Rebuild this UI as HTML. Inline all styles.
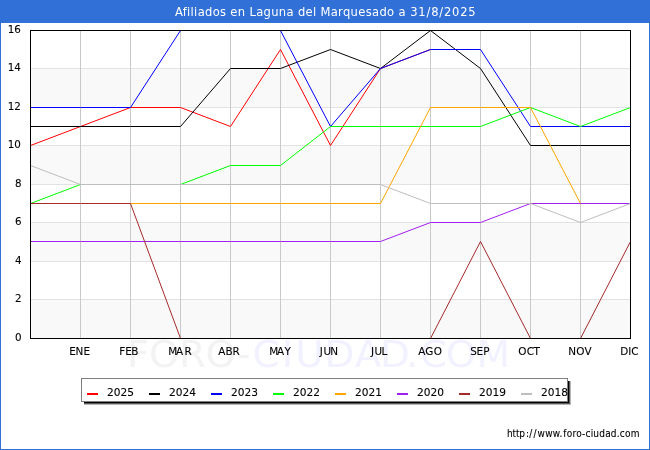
<!DOCTYPE html>
<html lang="es"><head><meta charset="utf-8"><title>Afiliados en Laguna del Marquesado a 31/8/2025</title>
<style>
html,body{margin:0;padding:0;background:#fff;}
body{width:650px;height:450px;overflow:hidden;position:relative;font-family:"DejaVu Sans","Liberation Sans",sans-serif;}
svg{position:absolute;left:0;top:0;display:block;}
text{font-family:"DejaVu Sans","Liberation Sans",sans-serif;}
.l text{stroke:#000;stroke-width:0.1px;}
</style></head><body>
<svg width="650" height="450" viewBox="0 0 650 450">

<rect x="0" y="0" width="650" height="450" fill="#3170d7"/>
<rect x="1" y="23" width="648" height="426" fill="#ffffff"/>
<text x="174.9" y="16" dx="0 0.33 0.33 0.33 0.33 0.33 0.33 0.33 0.33 0.33 0.33 0.33 0.33 0.33 0.33 0.33 0.33 0.33 0.33 0.33 0.33 0.33 0.33 0.33 0.33 0.33 0.33 0.33 0.33 0.33 0.33 0.33 0.33 0.33 0.33 0.33 0.33 0.73 0.8 0.8 0.8 0.8 0.8 0.8 0.8 0.8" font-size="12.8" fill="#ffffff" style="font-family:'DejaVu Sans Condensed','DejaVu Sans',sans-serif">Afiliados en Laguna del Marquesado a 31/8/2025</text>
<defs><linearGradient id="wm" gradientUnits="userSpaceOnUse" x1="0" y1="0" x2="364" y2="0"><stop offset="0" stop-color="#f3f3f3"/><stop offset="0.3289" stop-color="#f3f3f3"/><stop offset="0.3289" stop-color="#f1f1ff"/><stop offset="0.7288" stop-color="#f1f1ff"/><stop offset="0.7288" stop-color="#f1f1ff"/><stop offset="1" stop-color="#f1f1ff"/></linearGradient></defs>
<text transform="translate(127,367.3) scale(1.05,1)" dx="0.00 -0.38 -0.57 -0.38 -0.57 1.90 1.90 1.90 0.95 0.95 -1.33 -3.71 1.52 -1.14 0.10" font-size="37" fill="url(#wm)">FORO-CIUDAD.COM</text>
<rect x="31" y="30" width="600" height="38" fill="#ffffff" shape-rendering="crispEdges"/>
<rect x="31" y="68" width="600" height="39" fill="#f9f9f9" shape-rendering="crispEdges"/>
<rect x="31" y="107" width="600" height="38" fill="#ffffff" shape-rendering="crispEdges"/>
<rect x="31" y="145" width="600" height="39" fill="#f9f9f9" shape-rendering="crispEdges"/>
<rect x="31" y="184" width="600" height="38" fill="#ffffff" shape-rendering="crispEdges"/>
<rect x="31" y="222" width="600" height="39" fill="#f9f9f9" shape-rendering="crispEdges"/>
<rect x="31" y="261" width="600" height="38" fill="#ffffff" shape-rendering="crispEdges"/>
<rect x="31" y="299" width="600" height="39" fill="#f9f9f9" shape-rendering="crispEdges"/>
<line x1="31" x2="630" y1="68.5" y2="68.5" stroke="#e2e2e2" stroke-width="1" shape-rendering="crispEdges"/>
<line x1="31" x2="630" y1="107.5" y2="107.5" stroke="#e2e2e2" stroke-width="1" shape-rendering="crispEdges"/>
<line x1="31" x2="630" y1="145.5" y2="145.5" stroke="#e2e2e2" stroke-width="1" shape-rendering="crispEdges"/>
<line x1="31" x2="630" y1="184.5" y2="184.5" stroke="#e2e2e2" stroke-width="1" shape-rendering="crispEdges"/>
<line x1="31" x2="630" y1="222.5" y2="222.5" stroke="#e2e2e2" stroke-width="1" shape-rendering="crispEdges"/>
<line x1="31" x2="630" y1="261.5" y2="261.5" stroke="#e2e2e2" stroke-width="1" shape-rendering="crispEdges"/>
<line x1="31" x2="630" y1="299.5" y2="299.5" stroke="#e2e2e2" stroke-width="1" shape-rendering="crispEdges"/>
<line x1="80.5" x2="80.5" y1="31" y2="338" stroke="#c9c9c9" stroke-width="1" shape-rendering="crispEdges"/>
<line x1="130.5" x2="130.5" y1="31" y2="338" stroke="#c9c9c9" stroke-width="1" shape-rendering="crispEdges"/>
<line x1="180.5" x2="180.5" y1="31" y2="338" stroke="#c9c9c9" stroke-width="1" shape-rendering="crispEdges"/>
<line x1="230.5" x2="230.5" y1="31" y2="338" stroke="#c9c9c9" stroke-width="1" shape-rendering="crispEdges"/>
<line x1="280.5" x2="280.5" y1="31" y2="338" stroke="#c9c9c9" stroke-width="1" shape-rendering="crispEdges"/>
<line x1="330.5" x2="330.5" y1="31" y2="338" stroke="#c9c9c9" stroke-width="1" shape-rendering="crispEdges"/>
<line x1="380.5" x2="380.5" y1="31" y2="338" stroke="#c9c9c9" stroke-width="1" shape-rendering="crispEdges"/>
<line x1="430.5" x2="430.5" y1="31" y2="338" stroke="#c9c9c9" stroke-width="1" shape-rendering="crispEdges"/>
<line x1="480.5" x2="480.5" y1="31" y2="338" stroke="#c9c9c9" stroke-width="1" shape-rendering="crispEdges"/>
<line x1="530.5" x2="530.5" y1="31" y2="338" stroke="#c9c9c9" stroke-width="1" shape-rendering="crispEdges"/>
<line x1="580.5" x2="580.5" y1="31" y2="338" stroke="#c9c9c9" stroke-width="1" shape-rendering="crispEdges"/>
<polyline points="30.5,145.5 80.5,126.5 130.5,107.5 180.5,107.5 230.5,126.5 280.5,49.5 330.5,145.5 380.5,68.5 430.5,49.5" fill="none" stroke="#ff0000" stroke-width="1" stroke-linejoin="round"/>
<polyline points="30.5,126.5 80.5,126.5 130.5,126.5 180.5,126.5 230.5,68.5 280.5,68.5 330.5,49.5 380.5,68.5 430.5,30.5 480.5,68.5 530.5,145.5 580.5,145.5 630.5,145.5" fill="none" stroke="#000000" stroke-width="1" stroke-linejoin="round"/>
<polyline points="30.5,107.5 80.5,107.5 130.5,107.5 180.5,30.5 230.5,30.5 280.5,30.5 330.5,126.5 380.5,68.5 430.5,49.5 480.5,49.5 530.5,126.5 580.5,126.5 630.5,126.5" fill="none" stroke="#0000ff" stroke-width="1" stroke-linejoin="round"/>
<polyline points="30.5,203.5 80.5,184.5 130.5,184.5 180.5,184.5 230.5,165.5 280.5,165.5 330.5,126.5 380.5,126.5 430.5,126.5 480.5,126.5 530.5,107.5 580.5,126.5 630.5,107.5" fill="none" stroke="#00ff00" stroke-width="1" stroke-linejoin="round"/>
<polyline points="30.5,203.5 80.5,203.5 130.5,203.5 180.5,203.5 230.5,203.5 280.5,203.5 330.5,203.5 380.5,203.5 430.5,107.5 480.5,107.5 530.5,107.5 580.5,203.5 630.5,203.5" fill="none" stroke="#ffa500" stroke-width="1" stroke-linejoin="round"/>
<polyline points="30.5,241.5 80.5,241.5 130.5,241.5 180.5,241.5 230.5,241.5 280.5,241.5 330.5,241.5 380.5,241.5 430.5,222.5 480.5,222.5 530.5,203.5 580.5,203.5 630.5,203.5" fill="none" stroke="#a020f0" stroke-width="1" stroke-linejoin="round"/>
<polyline points="30.5,203.5 80.5,203.5 130.5,203.5 180.5,338.5 230.5,338.5 280.5,338.5 330.5,338.5 380.5,338.5 430.5,338.5 480.5,241.5 530.5,338.5 580.5,338.5 630.5,241.5" fill="none" stroke="#a52a2a" stroke-width="1" stroke-linejoin="round"/>
<polyline points="30.5,165.5 80.5,184.5 130.5,184.5 180.5,184.5 230.5,184.5 280.5,184.5 330.5,184.5 380.5,184.5 430.5,203.5 480.5,203.5 530.5,203.5 580.5,222.5 630.5,203.5" fill="none" stroke="#bebebe" stroke-width="1" stroke-linejoin="round"/>
<rect x="30.5" y="30.5" width="600" height="308" fill="none" stroke="#000" stroke-width="1" shape-rendering="crispEdges"/>
<g class="l">
<text transform="translate(7.8,33.3) scale(0.94,1)" font-size="11" letter-spacing="-0.25" fill="#000">16</text>
<text transform="translate(7.8,71.3) scale(0.94,1)" font-size="11" letter-spacing="-0.25" fill="#000">14</text>
<text transform="translate(7.8,110.3) scale(0.94,1)" font-size="11" letter-spacing="-0.25" fill="#000">12</text>
<text transform="translate(7.8,148.3) scale(0.94,1)" font-size="11" letter-spacing="-0.25" fill="#000">10</text>
<text transform="translate(21.6,187.3) scale(0.94,1)" font-size="11" text-anchor="end" fill="#000">8</text>
<text transform="translate(21.6,225.3) scale(0.94,1)" font-size="11" text-anchor="end" fill="#000">6</text>
<text transform="translate(21.6,264.3) scale(0.94,1)" font-size="11" text-anchor="end" fill="#000">4</text>
<text transform="translate(21.6,302.3) scale(0.94,1)" font-size="11" text-anchor="end" fill="#000">2</text>
<text transform="translate(21.6,341.3) scale(0.94,1)" font-size="11" text-anchor="end" fill="#000">0</text>
<text transform="scale(0.95,1)" x="72.89 79.47 87.94" y="355" font-size="11" fill="#000">ENE</text>
<text transform="scale(0.95,1)" x="125.52 131.84 138.15" y="355" font-size="11" fill="#000">FEB</text>
<text transform="scale(0.95,1)" x="177.15 185.25 194.20" y="355" font-size="11" fill="#000">MAR</text>
<text transform="scale(0.95,1)" x="229.83 237.36 244.63" y="355" font-size="11" fill="#000">ABR</text>
<text transform="scale(0.95,1)" x="283.42 291.46 299.57" y="355" font-size="11" fill="#000">MAY</text>
<text transform="scale(0.95,1)" x="336.70 340.54 347.68" y="355" font-size="11" fill="#000">JUN</text>
<text transform="scale(0.95,1)" x="390.59 394.29 401.57" y="355" font-size="11" fill="#000">JUL</text>
<text transform="scale(0.95,1)" x="440.36 447.61 456.56" y="355" font-size="11" fill="#000">AGO</text>
<text transform="scale(0.95,1)" x="494.98 501.57 508.73" y="355" font-size="11" fill="#000">SEP</text>
<text transform="scale(0.95,1)" x="545.57 554.56 561.53" y="355" font-size="11" fill="#000">OCT</text>
<text transform="scale(0.95,1)" x="598.20 606.46 615.25" y="355" font-size="11" fill="#000">NOV</text>
<text transform="scale(0.95,1)" x="652.89 661.36 664.56" y="355" font-size="11" fill="#000">DIC</text>
</g>
<rect x="84" y="381" width="487" height="24" fill="#b4b4b4" shape-rendering="crispEdges"/>
<rect x="84" y="381" width="486" height="23" fill="#585858" shape-rendering="crispEdges"/>
<rect x="84" y="381" width="485" height="22" fill="#000" shape-rendering="crispEdges"/>
<rect x="81.5" y="378.5" width="486" height="23" fill="#fff" stroke="#7f7f7f" stroke-width="1" shape-rendering="crispEdges"/>
<g class="l">
<line x1="87" x2="98" y1="394" y2="394" stroke="#ff0000" stroke-width="2" shape-rendering="crispEdges"/>
<text transform="translate(107,396.1) scale(0.965,1)" font-size="11" fill="#000">2025</text>
<line x1="149" x2="160" y1="394" y2="394" stroke="#000000" stroke-width="2" shape-rendering="crispEdges"/>
<text transform="translate(169,396.1) scale(0.965,1)" font-size="11" fill="#000">2024</text>
<line x1="211" x2="222" y1="394" y2="394" stroke="#0000ff" stroke-width="2" shape-rendering="crispEdges"/>
<text transform="translate(231,396.1) scale(0.965,1)" font-size="11" fill="#000">2023</text>
<line x1="273" x2="284" y1="394" y2="394" stroke="#00ff00" stroke-width="2" shape-rendering="crispEdges"/>
<text transform="translate(293,396.1) scale(0.965,1)" font-size="11" fill="#000">2022</text>
<line x1="335" x2="346" y1="394" y2="394" stroke="#ffa500" stroke-width="2" shape-rendering="crispEdges"/>
<text transform="translate(355,396.1) scale(0.965,1)" font-size="11" fill="#000">2021</text>
<line x1="397" x2="408" y1="394" y2="394" stroke="#a020f0" stroke-width="2" shape-rendering="crispEdges"/>
<text transform="translate(417,396.1) scale(0.965,1)" font-size="11" fill="#000">2020</text>
<line x1="459" x2="470" y1="394" y2="394" stroke="#a52a2a" stroke-width="2" shape-rendering="crispEdges"/>
<text transform="translate(479,396.1) scale(0.965,1)" font-size="11" fill="#000">2019</text>
<line x1="521" x2="532" y1="394" y2="394" stroke="#bebebe" stroke-width="2" shape-rendering="crispEdges"/>
<text transform="translate(541,396.1) scale(0.965,1)" font-size="11" fill="#000">2018</text>
</g>
<text x="507.1" y="437.2" dx="0 -0.2 -0.2 -0.2 0.9 0.2 1.3 1.0 0.3 0.3 0.3 0.9 0.2 0.2 0.2 0.2 0.2 0.2 0.2 0.2 0.2 0.2 0.2 0.2 0.2 0.2" font-size="10" fill="#000" stroke="#000" stroke-width="0.1" style="font-family:'DejaVu Sans Condensed','DejaVu Sans',sans-serif">http://www.foro-ciudad.com</text>
</svg></body></html>
